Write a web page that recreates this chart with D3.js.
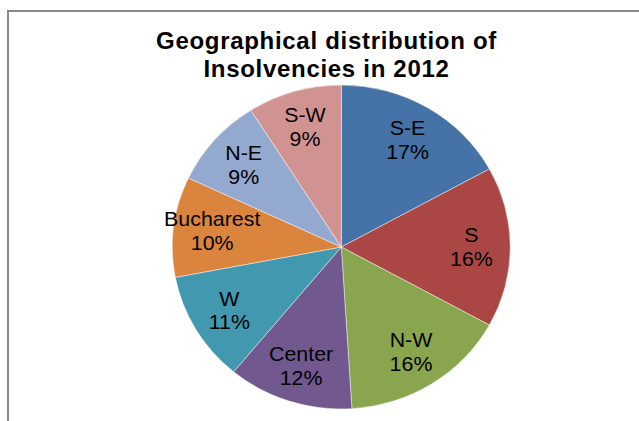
<!DOCTYPE html>
<html>
<head>
<meta charset="utf-8">
<script src="https://cdn.jsdelivr.net/npm/d3@7"></script>
<style>
  html, body { margin: 0; padding: 0; background: #ffffff; }
  svg { display: block; }
</style>
</head>
<body>
<script>
// Share of insolvencies per region, 2012 (percent)
const regions = ["S-E", "S", "N-W", "Center", "W", "Bucharest", "N-E", "S-W"];
const shares = [17, 16, 16, 12, 11, 10, 9, 9];
const sliceColors = ["#4572A7", "#AA4643", "#89A54E", "#71588F", "#4198AF", "#DB843D", "#93A9CF", "#D19392"];
const titleLines = ["Geographical distribution of", "Insolvencies in 2012"];

const width = 639, height = 421;
const font = "'Liberation Sans', Arial, sans-serif";

const svg = d3.select("body").append("svg")
  .attr("width", width)
  .attr("height", height);

// Chart frame (left and top edges)
svg.append("path")
  .attr("d", `M8,${height} V11 H${width}`)
  .attr("fill", "none")
  .attr("stroke", "#898989")
  .attr("stroke-width", 2);

// Title
const title = svg.append("text")
  .attr("x", 326.5)
  .attr("text-anchor", "middle")
  .attr("font-family", font)
  .attr("font-weight", "bold")
  .attr("font-size", 24)
  .attr("letter-spacing", 0.7)
  .attr("fill", "#000");
titleLines.forEach((line, i) => {
  title.append("tspan")
    .attr("x", 326.5)
    .attr("y", 49 + i * 27.5)
    .text(line);
});

// Pie (slightly wider than tall)
const radius = 162;
const stretchX = 1.043;
const data = regions.map((r, i) => ({ region: r, value: shares[i], color: sliceColors[i] }));

const pie = d3.pie().sort(null).value(d => d.value).startAngle(0).endAngle(2 * Math.PI);
const arc = d3.arc().innerRadius(0).outerRadius(radius);
const labelArc = d3.arc().innerRadius(radius * 0.77).outerRadius(radius * 0.77);

const g = svg.append("g")
  .attr("transform", `translate(341.3,247) scale(${stretchX},1)`);

g.selectAll("path.slice")
  .data(pie(data))
  .join("path")
  .attr("class", "slice")
  .attr("d", arc)
  .attr("fill", d => d.data.color)
  .attr("stroke", "#ffffff")
  .attr("stroke-opacity", 0.55)
  .attr("stroke-width", 0.8);

const labels = g.selectAll("text.label")
  .data(pie(data))
  .join("text")
  .attr("class", "label")
  .attr("text-anchor", "middle")
  .attr("font-family", font)
  .attr("font-size", 20.5)
  .attr("fill", "#000")
  .attr("transform", d => `translate(${labelArc.centroid(d)})`);

labels.append("tspan")
  .attr("x", 0)
  .attr("y", -5)
  .text(d => d.data.region);
labels.append("tspan")
  .attr("x", 0)
  .attr("y", 19)
  .text(d => d3.format(".0f")(d.data.value) + "%");
</script>
</body>
</html>
